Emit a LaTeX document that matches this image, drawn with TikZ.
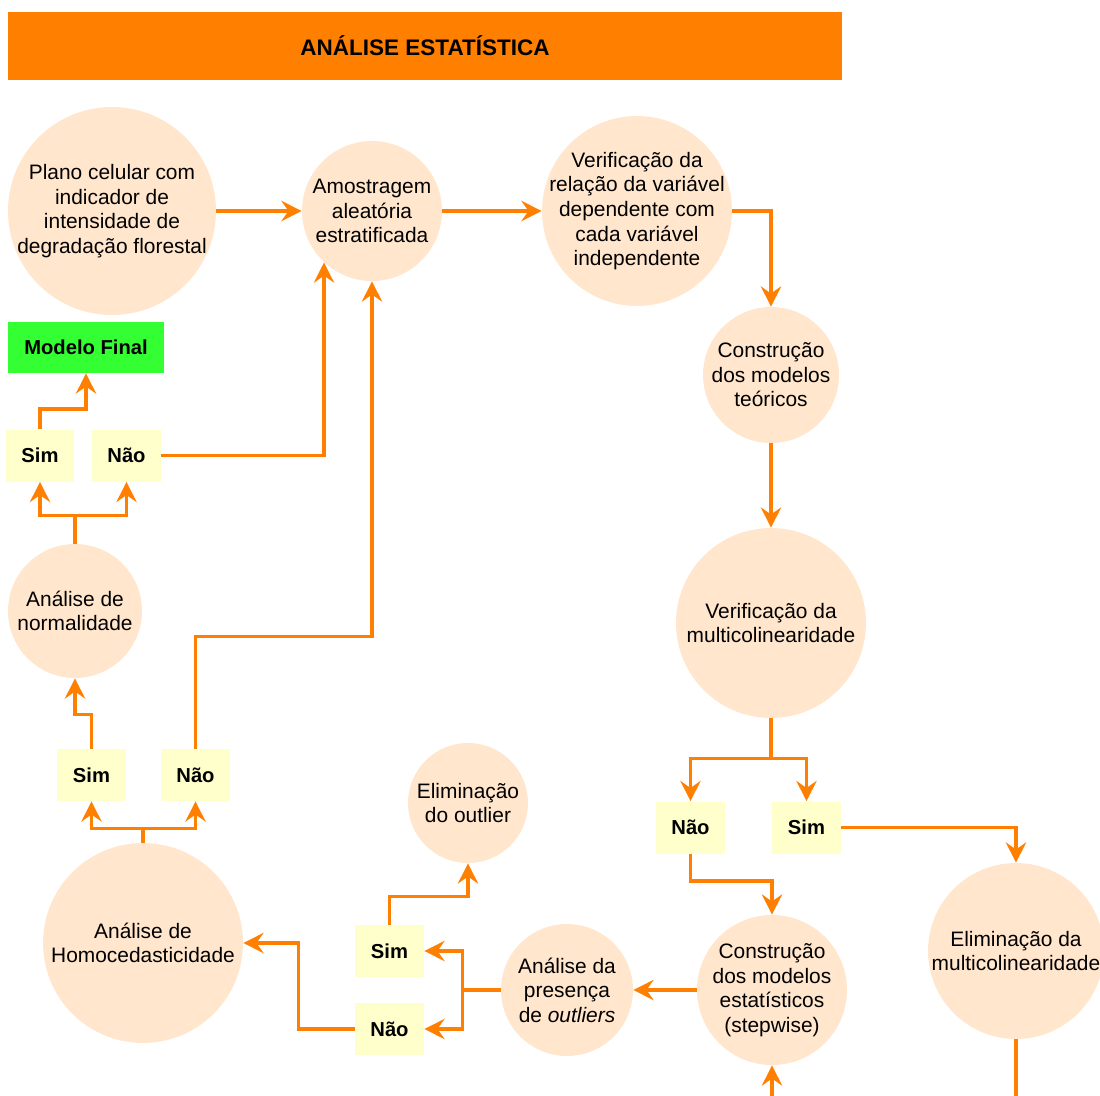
\documentclass[tikz,border=0pt]{standalone}
\usepackage{fontspec}
\setmainfont{Liberation Sans}
\usetikzlibrary{arrows.meta}

\definecolor{laranja}{HTML}{FF8000}
\definecolor{pessego}{HTML}{FFE6CC}
\definecolor{amarelo}{HTML}{FFFFCC}
\definecolor{verde}{HTML}{33FF33}

\tikzset{
    bolha/.style={circle, fill=pessego, inner sep=-10pt, minimum size=#1, align=center,
        font=\fontsize{11.9}{14}\selectfont},
    resp/.style={rectangle, fill=amarelo, minimum width=1.38cm, minimum height=1.04cm,
        font=\bfseries\fontsize{11.5}{14}\selectfont},
    seta/.style={draw=laranja, line width=2pt,
        -{Stealth[length=11.5pt, width=11.5pt, inset=4pt]}}
}

\begin{document}
\begin{tikzpicture}[x=0.02cm, y=-0.02cm]
    \path[use as bounding box, clip] (0,0) rectangle (1100,1096);
    \path node[fill=laranja, minimum width=16.68cm, minimum height=1.36cm,
            font=\bfseries\fontsize{12.8}{14}\selectfont] (titulo) at (425,46) {ANÁLISE ESTATÍSTICA}
        node[bolha=4.16cm] (plano) at (112,211) {Plano celular com\\indicador de\\intensidade de\\degradação florestal}
        node[bolha=2.8cm] (amost) at (372,211) {Amostragem\\aleatória\\estratificada}
        node[bolha=3.8cm] (verif) at (637,211) {Verificação da\\relação da variável\\dependente com\\cada variável\\independente}
        node[bolha=2.72cm] (teor) at (771,375) {Construção\\dos modelos\\teóricos}
        node[bolha=3.8cm] (multi) at (771,623) {Verificação da\\multicolinearidade}
        node[bolha=3.52cm] (elimM) at (1016,951) {Eliminação da\\multicolinearidade}
        node[bolha=3.0cm] (estat) at (772,990) {Construção\\dos modelos\\estatísticos\\(stepwise)}
        node[bolha=2.64cm] (outl) at (567,990) {Análise da\\presença\\de \textit{outliers}}
        node[bolha=2.4cm] (elimO) at (468,803) {Eliminação\\do outlier}
        node[bolha=4.0cm] (homo) at (143,943) {Análise de\\Homocedasticidade}
        node[bolha=2.68cm] (norm) at (75,611) {Análise de\\normalidade}
        node[resp, fill=verde, minimum width=3.12cm, minimum height=1.02cm] (final) at (86,347.5) {Modelo Final}
        node[resp] (simT) at (40,455.5) {Sim}
        node[resp] (naoT) at (126.5,455.5) {Não}
        node[resp] (simM) at (91.5,775) {Sim}
        node[resp] (naoM) at (195.5,775) {Não}
        node[resp] (simO) at (389.5,951) {Sim}
        node[resp] (naoO) at (389.5,1029) {Não}
        node[resp] (naoR) at (690.5,827.5) {Não}
        node[resp] (simR) at (806.5,827.5) {Sim};
    % caminho principal
    \draw[seta] (plano) -- (amost);
    \draw[seta] (amost) -- (verif);
    \draw[seta] (verif) -| (teor);
    \draw[seta] (teor) -- (multi);
    \draw[seta] (multi.south) -- ++(0,40) -| (naoR);
    \draw[seta] (multi.south) -- ++(0,40) -| (simR);
    \draw[seta] (naoR.south) -- ++(0,27) -| (estat);
    \draw[seta] (simR) -| (elimM);
    \draw[seta] (elimM.south) -- ++(0,58) -| (estat);
    \draw[seta] (estat) -- (outl);
    % outliers
    \draw[seta] (outl.west) -- ++(-38,0) |- (simO);
    \draw[seta] (outl.west) -- ++(-38,0) |- (naoO);
    \draw[seta] (simO.north) -- ++(0,-28) -| (elimO);
    \draw[seta] (naoO.west) -- ++(-56,0) |- (homo);
    % homocedasticidade e normalidade
    \draw[seta] (homo.north) -- ++(0,-14) -| (simM);
    \draw[seta] (homo.north) -- ++(0,-14) -| (naoM);
    \draw[seta] (simM.north) -- ++(0,-34) -| (norm);
    \draw[seta] (naoM.north) -- ++(0,-112) -| (amost);
    \draw[seta] (norm.north) -- ++(0,-28) -| (simT);
    \draw[seta] (norm.north) -- ++(0,-28) -| (naoT);
    \draw[seta] (simT.north) -- ++(0,-20) -| (final);
    \draw[seta] (naoT) -| (amost.227);
\end{tikzpicture}
\end{document}
